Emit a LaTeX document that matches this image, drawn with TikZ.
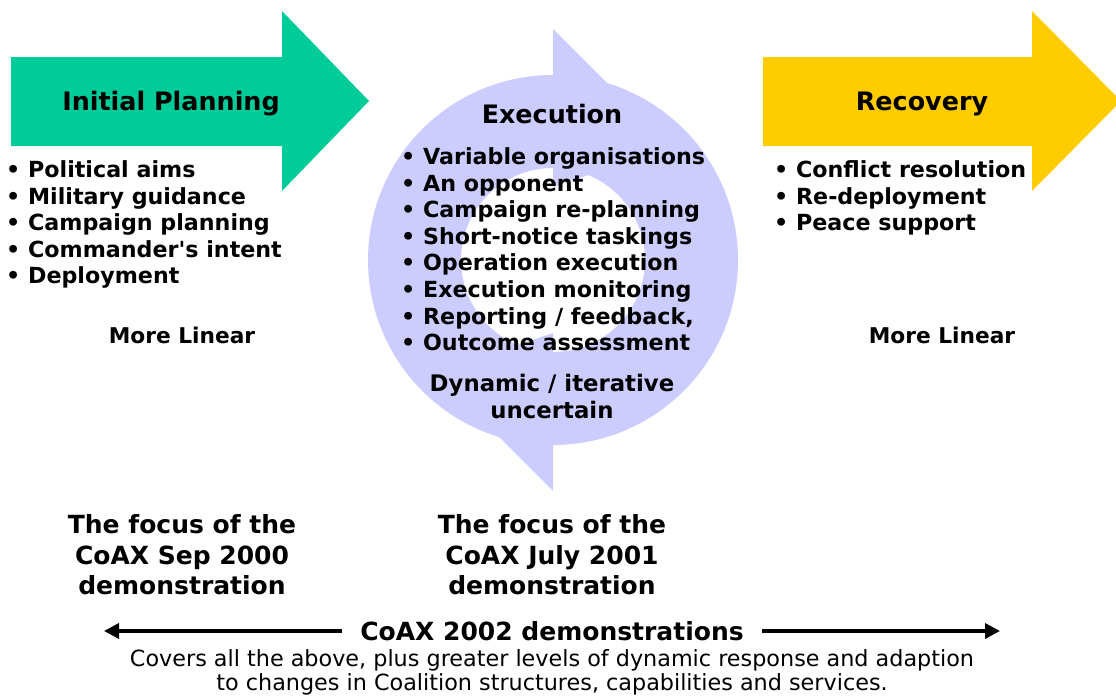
\documentclass[tikz,border=0pt]{standalone}
\usepackage{fontspec}
\setmainfont{DejaVu Sans}
\usepackage{tikz}
\usetikzlibrary{arrows.meta}
\usetikzlibrary{positioning}

\definecolor{plangreen}{RGB}{0,204,153}
\definecolor{recyellow}{RGB}{255,204,0}
\definecolor{execlilac}{RGB}{204,204,255}

\tikzset{
  stagetitle/.style={inner sep=0pt, font=\fontsize{25.4}{28}\selectfont\bfseries},
  itemlist/.style={inner sep=0pt, align=left, anchor=north west,
    font=\fontsize{22.2}{26.6}\selectfont\bfseries},
  linearnote/.style={inner sep=0pt, font=\fontsize{21.7}{26}\selectfont\bfseries},
  focusnote/.style={inner sep=0pt, align=center, font=\fontsize{25}{30.5}\selectfont\bfseries},
  spanarrow/.style={line width=3.5pt, -{Triangle[length=15pt,width=15pt]}},
}

\begin{document}
\begin{tikzpicture}[x=1pt,y=-1pt]
            \useasboundingbox (0,0) rectangle (1116,696);
            \clip (0,0) rectangle (1116,696);
            % stage arrows
            \fill[plangreen] (11,57) -- (282,57) -- (282,11) -- (369,101) -- (282,191) -- (282,146) -- (11,146) -- cycle;
            \fill[recyellow] (763,57) -- (1032,57) -- (1032,11) -- (1121,101) -- (1032,191) -- (1032,146) -- (763,146) -- cycle;
            % circular arrow
            \fill[execlilac, even odd rule] (553,260) circle[radius=185] (553,260) circle[radius=92];
            \fill[execlilac] (553,29) -- (671,147) -- (553,187) -- cycle;
            \fill[execlilac] (553,491) -- (435,373) -- (553,333) -- cycle;

            \node[stagetitle] (plan_title) at (171,104) {Initial Planning};
            \node[stagetitle] (exec_title) at (552,114) {Execution};
            \node[stagetitle] (rec_title) at (922,104) {Recovery};

            \node[itemlist] (plan_list) at (6,160.5) {%
              • Political aims\\ • Military guidance\\ • Campaign planning\\
              • Commander\textquotesingle s intent\\ • Deployment};
            \node[itemlist] (exec_list) at (401,147.5) {%
              • Variable organisations\\ • An opponent\\ • Campaign re-planning\\
              • Short-notice taskings\\ • Operation execution\\ • Execution monitoring\\
              • Reporting / feedback,\\ • Outcome assessment};
            \node[itemlist] (rec_list) at (774,160.5) {%
              • Conflict resolution\\ • Re-deployment\\ • Peace support};

            \node[linearnote] (plan_note) at (182,335) {More Linear};
            \node[linearnote] (rec_note) at (942,335) {More Linear};
            \node[linearnote, align=center, font=\fontsize{22.8}{27}\selectfont\bfseries]
              (exec_note) at (552,396) {Dynamic / iterative\\uncertain};

            \node[focusnote] (focus_2000) at (182,555) {The focus of the\\CoAX Sep 2000\\demonstration};
            \node[focusnote] (focus_2001) at (552,555) {The focus of the\\CoAX July 2001\\demonstration};

            % 2002 span
            \node[inner xsep=18pt, inner ysep=0pt, font=\fontsize{25}{28}\selectfont\bfseries]
              (coax_2002) at (552,631) {CoAX 2002 demonstrations};
            \coordinate (span_l) at (104,631);
            \coordinate (span_r) at (1000,631);
            \draw[spanarrow] (coax_2002) -- (span_l);
            \draw[spanarrow] (coax_2002) -- (span_r);
            \node[inner sep=0pt, align=center, font=\fontsize{22.3}{23.5}\selectfont]
              (covers) at (552,672.5) {Covers all the above, plus greater levels of dynamic response and adaption\\
              to changes in Coalition structures, capabilities and services.};
        \end{tikzpicture}
\end{document}
